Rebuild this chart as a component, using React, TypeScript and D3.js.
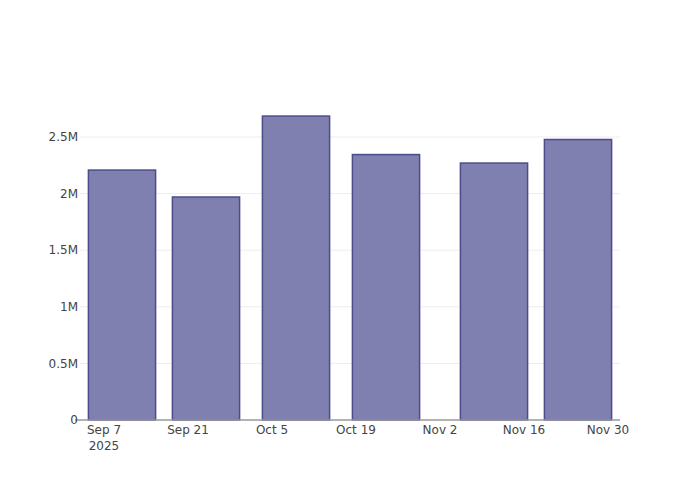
import React from "react";
import * as d3 from "d3";

const dates = ["2025-09-10", "2025-09-24", "2025-10-09", "2025-10-24", "2025-11-11", "2025-11-25"];
const values = [2208000, 1970000, 2685000, 2345000, 2270000, 2478000];
const yTicks = [0, 500000, 1000000, 1500000, 2000000, 2500000];
const yTickLabels = ["0", "0.5M", "1M", "1.5M", "2M", "2.5M"];
const xTicks = ["2025-09-07", "2025-09-21", "2025-10-05", "2025-10-19", "2025-11-02", "2025-11-16", "2025-11-30"];
const xTickLabels = ["Sep 7", "Sep 21", "Oct 5", "Oct 19", "Nov 2", "Nov 16", "Nov 30"];

const parse = (s: string) => new Date(s + "T00:00:00Z");
const DAY = 86400000;

export default function App() {
  const left = 80, right = 620, top = 100, bottom = 420;
  const x = d3.scaleUtc().domain([parse("2025-09-03"), parse("2025-12-02")]).range([left, right]);
  const y = d3.scaleLinear().domain([0, 2827000]).range([bottom, top]);
  const barW = x(new Date(parse("2025-09-03").getTime() + 11.2 * DAY)) - left;
  const font = "'DejaVu Sans', sans-serif";
  return (
    <svg width={700} height={500} style={{ position: "absolute", left: 0, top: 0, background: "#fff" }} fontFamily={font}>
      {yTicks.map((t, i) =>
        i > 0 ? <line key={"g" + i} x1={left} x2={right} y1={y(t)} y2={y(t)} stroke="#eeeeee" strokeWidth={1} /> : null
      )}
      {dates.map((d, i) => {
        const cx = x(parse(d));
        return (
          <rect key={"b" + i} x={cx - barW / 2} y={y(values[i])} width={barW} height={bottom - y(values[i])}
            fill="#7f7fb0" stroke="#4c4c8c" strokeWidth={1.5} />
        );
      })}
      <line x1={75} x2={right} y1={bottom} y2={bottom} stroke="#999" strokeWidth={1.5} />
      {yTicks.map((t, i) => (
        <text key={"yl" + i} x={78} y={y(t)} dy="0.35em" textAnchor="end" fontSize={12} fill="#444">{yTickLabels[i]}</text>
      ))}
      {xTicks.map((t, i) => (
        <text key={"xl" + i} x={x(parse(t))} y={434} textAnchor="middle" fontSize={12} fill="#444">{xTickLabels[i]}</text>
      ))}
      <text x={x(parse(xTicks[0]))} y={450} textAnchor="middle" fontSize={12} fill="#444">2025</text>
    </svg>
  );
}
